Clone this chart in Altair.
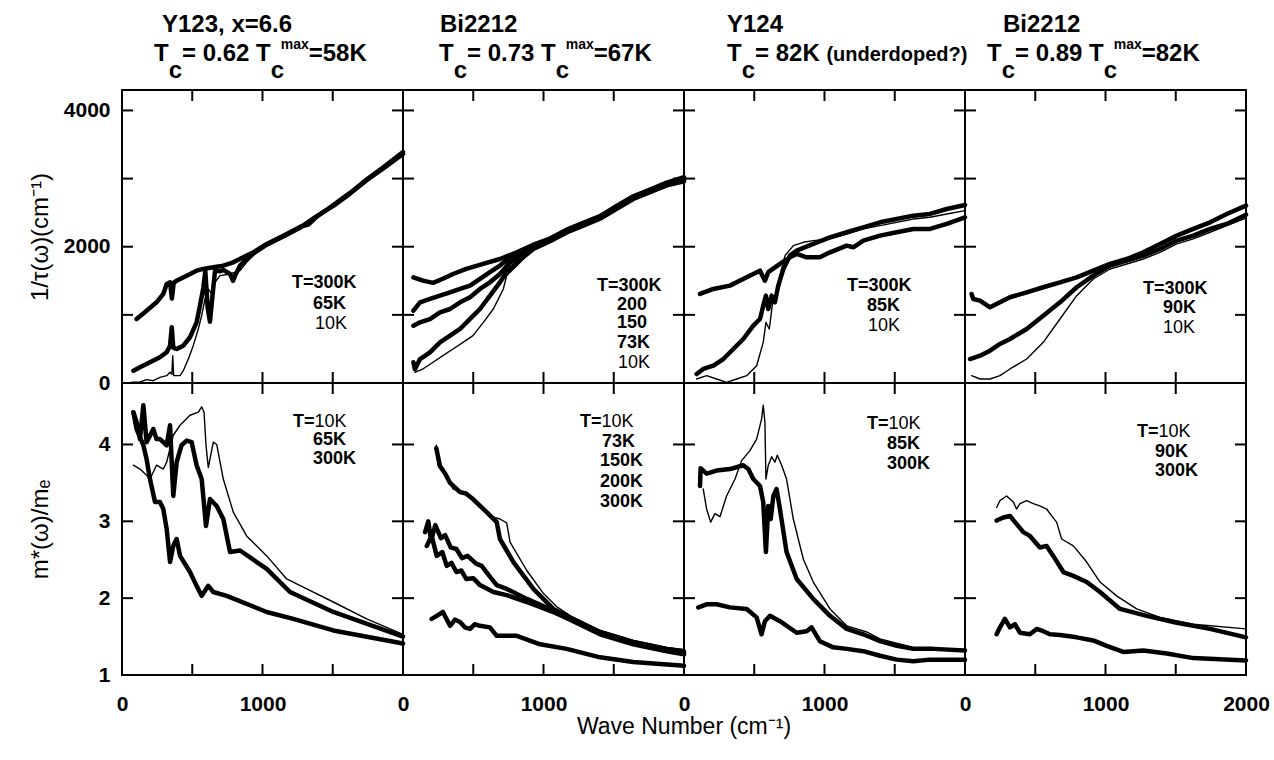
import altair as alt
import pandas as pd

FONT = "Liberation Sans"
PANEL_W, TOP_H, BOT_H = 281, 293, 292
X_DOMAIN = [0, 2000]
TOP_DOMAIN = [0, 4300]
BOT_DOMAIN = [1, 4.8]
THICK, THIN = 4.5, 1.4

# ---------------- curves: (wave number, value) ----------------
# Y123 x=6.6, 1/tau
P1_TOP_300K = [(104, 940), (175, 1061), (246, 1184), (294, 1307), (318, 1453), (342, 1478), (355, 1240),
               (368, 1470), (389, 1502), (460, 1575), (531, 1649), (579, 1674), (650, 1698), (721, 1722),
               (792, 1771), (863, 1845), (935, 1918), (1030, 2040), (1148, 2162), (1267, 2290), (1330, 2330),
               (1386, 2440), (1504, 2610), (1623, 2790), (1741, 2985), (1860, 3166), (2000, 3390)]
P1_TOP_65K = [(81, 181), (128, 230), (199, 304), (270, 377), (318, 451), (342, 548), (354, 818), (365, 520),
              (389, 499), (436, 548), (484, 671), (531, 891), (555, 1135), (579, 1400), (593, 1640), (610, 1100),
              (626, 900), (645, 1300), (662, 1649), (700, 1640), (721, 1660), (769, 1600), (790, 1500),
              (810, 1600), (840, 1722), (911, 1869), (1030, 2030), (1148, 2150), (1267, 2280), (1386, 2450),
              (1504, 2600), (1623, 2780), (1741, 2975), (1860, 3150), (2000, 3360)]
P1_TOP_10K = [(69, 10), (128, 15), (175, 49), (223, 34), (270, 83), (318, 108), (342, 157), (355, 130),
              (361, 401), (368, 108), (413, 108), (436, 181), (472, 352), (507, 548), (543, 793), (567, 988),
              (591, 1233), (614, 1380), (638, 1307), (662, 1478), (697, 1575), (769, 1600), (840, 1649),
              (887, 1771), (958, 1918), (1030, 2016), (1148, 2140), (1267, 2270), (1386, 2440), (1504, 2600),
              (1623, 2780), (1741, 2970), (1860, 3150), (2000, 3370)]
# Y123 x=6.6, m*/me
P1_BOT_10K = [(81, 3.73), (128, 3.68), (175, 3.60), (199, 3.55), (246, 3.73), (294, 3.68), (318, 3.77),
              (365, 4.12), (413, 4.25), (484, 4.38), (543, 4.42), (567, 4.49), (584, 4.42), (598, 3.99),
              (614, 3.70), (650, 4.03), (674, 4.00), (721, 3.55), (792, 3.12), (887, 2.81), (1030, 2.55),
              (1172, 2.25), (1315, 2.12), (1504, 1.95), (1741, 1.73), (2000, 1.53)]
P1_BOT_65K = [(81, 4.42), (104, 4.29), (128, 4.07), (152, 4.51), (175, 4.03), (223, 4.20), (246, 4.07),
              (270, 4.07), (318, 3.99), (342, 4.25), (365, 3.33), (389, 3.77), (424, 3.99), (460, 4.05),
              (496, 4.03), (531, 3.73), (567, 3.55), (598, 2.94), (626, 3.29), (674, 3.20), (721, 3.03),
              (769, 2.60), (840, 2.62), (1030, 2.38), (1196, 2.08), (1504, 1.82), (2000, 1.50)]
P1_BOT_300K = [(81, 4.42), (104, 4.20), (152, 3.99), (175, 3.81), (199, 3.55), (235, 3.25), (270, 3.25),
               (294, 3.16), (318, 2.90), (342, 2.47), (365, 2.68), (389, 2.77), (413, 2.55), (484, 2.34),
               (531, 2.16), (567, 2.03), (614, 2.16), (650, 2.08), (745, 2.03), (1030, 1.82), (1219, 1.73),
               (1504, 1.58), (2000, 1.41)]
# Bi2212 Tc=67K, 1/tau
P2_TOP_300K = [(74, 1550), (142, 1502), (214, 1470), (284, 1530), (356, 1600), (450, 1675), (570, 1747),
               (690, 1820), (810, 1918), (928, 2030), (1046, 2120), (1165, 2250), (1283, 2350), (1402, 2450),
               (1521, 2600), (1639, 2740), (1758, 2840), (1877, 2940), (2000, 3020)]
P2_TOP_200K = [(74, 1061), (121, 1184), (192, 1233), (263, 1282), (335, 1331), (406, 1380), (477, 1429),
               (548, 1528), (619, 1626), (690, 1724), (762, 1845), (833, 1918), (928, 2016), (1046, 2110),
               (1165, 2240), (1283, 2340), (1402, 2440), (1521, 2590), (1639, 2730), (1758, 2830), (1877, 2930),
               (2000, 3000)]
P2_TOP_150K = [(74, 841), (121, 890), (192, 939), (263, 1037), (335, 1086), (406, 1184), (477, 1258),
               (548, 1380), (619, 1478), (690, 1600), (762, 1771), (833, 1869), (928, 1992), (1046, 2095),
               (1165, 2225), (1283, 2325), (1402, 2425), (1521, 2570), (1639, 2710), (1758, 2810), (1877, 2910),
               (2000, 2980)]
P2_TOP_73K = [(74, 304), (85, 200), (121, 352), (192, 450), (263, 597), (335, 695), (406, 793), (477, 940),
              (548, 1086), (619, 1282), (690, 1478), (738, 1626), (810, 1771), (928, 1967), (1046, 2080),
              (1165, 2210), (1283, 2310), (1402, 2410), (1521, 2555), (1639, 2700), (1758, 2800), (1877, 2900),
              (2000, 2960)]
P2_TOP_10K = [(85, 157), (142, 206), (214, 304), (284, 401), (356, 499), (427, 597), (498, 695), (572, 890),
              (643, 1086), (714, 1380), (738, 1575), (810, 1722), (928, 1967), (1046, 2090), (1165, 2220),
              (1283, 2320), (1402, 2420), (1521, 2565), (1639, 2710), (1758, 2810), (1877, 2910), (2000, 2970)]
# Bi2212 Tc=67K, m*/me
P2_BOT_10K = [(237, 3.99), (249, 3.73), (284, 3.70), (356, 3.42), (450, 3.38), (520, 3.25), (614, 3.07),
              (690, 3.03), (738, 2.98), (762, 2.73), (881, 2.36), (1000, 2.06), (1093, 1.89), (1200, 1.76),
              (1402, 1.58), (1639, 1.45), (1877, 1.36), (2000, 1.33)]
P2_BOT_73K = [(237, 3.95), (263, 3.72), (300, 3.62), (335, 3.50), (370, 3.44), (406, 3.38), (450, 3.36),
              (498, 3.29), (595, 3.12), (667, 2.99), (690, 2.77), (786, 2.47), (928, 2.12), (1070, 1.86),
              (1200, 1.74), (1402, 1.56), (1639, 1.43), (1877, 1.34), (2000, 1.31)]
P2_BOT_150K = [(157, 2.86), (180, 3.00), (200, 2.75), (230, 2.95), (270, 2.78), (300, 2.82), (340, 2.66),
               (380, 2.64), (420, 2.52), (460, 2.55), (520, 2.45), (560, 2.42), (610, 2.30), (667, 2.17),
               (738, 2.12), (881, 1.99), (1093, 1.82), (1200, 1.73), (1402, 1.55), (1639, 1.42), (1877, 1.33),
               (2000, 1.29)]
P2_BOT_200K = [(169, 2.68), (204, 2.81), (240, 2.55), (280, 2.60), (311, 2.42), (345, 2.46), (380, 2.34),
               (415, 2.36), (450, 2.25), (500, 2.26), (548, 2.17), (643, 2.08), (738, 2.04), (881, 1.95),
               (1093, 1.80), (1200, 1.71), (1402, 1.53), (1639, 1.40), (1877, 1.31), (2000, 1.27)]
P2_BOT_300K = [(204, 1.73), (240, 1.77), (284, 1.82), (335, 1.64), (370, 1.72), (406, 1.69), (440, 1.62),
               (477, 1.60), (510, 1.66), (548, 1.64), (619, 1.62), (667, 1.51), (810, 1.51), (976, 1.40),
               (1165, 1.34), (1402, 1.23), (1639, 1.17), (2000, 1.12)]
# Y124, 1/tau
P3_TOP_300K = [(114, 1307), (209, 1380), (327, 1429), (446, 1551), (541, 1649), (576, 1502), (600, 1626),
               (683, 1747), (754, 1845), (802, 1894), (872, 1845), (967, 1845), (1039, 1918), (1158, 2016),
               (1205, 1992), (1276, 2090), (1395, 2163), (1514, 2212), (1632, 2261), (1751, 2261), (1870, 2334),
               (2000, 2432)]
P3_TOP_85K = [(90, 132), (137, 206), (209, 254), (280, 352), (351, 499), (422, 646), (493, 842), (541, 939),
              (564, 1135), (583, 1282), (600, 1086), (624, 1282), (647, 1184), (671, 1429), (707, 1673),
              (754, 1869), (802, 1943), (920, 2041), (1039, 2138), (1158, 2212), (1276, 2285), (1395, 2358),
              (1514, 2407), (1632, 2456), (1751, 2481), (1870, 2554), (2000, 2613)]
P3_TOP_10K = [(90, 59), (161, 108), (232, 59), (303, 10), (375, 59), (446, 108), (517, 254), (564, 597),
              (583, 890), (607, 793), (631, 1184), (659, 1282), (683, 1575), (719, 1869), (778, 2016),
              (849, 2065), (920, 2090), (1039, 2114), (1158, 2187), (1276, 2261), (1395, 2309), (1514, 2358),
              (1632, 2407), (1751, 2432), (1870, 2481), (2000, 2530)]
# Y124, m*/me
P3_BOT_85K = [(114, 3.46), (118, 3.69), (161, 3.62), (232, 3.66), (327, 3.68), (422, 3.73), (458, 3.68),
              (493, 3.55), (541, 3.46), (564, 3.25), (583, 2.60), (600, 3.20), (617, 3.03), (636, 3.33),
              (659, 3.42), (683, 3.16), (730, 2.60), (802, 2.25), (920, 1.99), (1039, 1.77), (1158, 1.60),
              (1276, 1.53), (1395, 1.44), (1514, 1.38), (1632, 1.34), (1775, 1.34), (2000, 1.32)]
P3_BOT_10K = [(137, 3.42), (161, 3.16), (190, 2.99), (220, 3.10), (256, 3.06), (303, 3.33), (363, 3.55),
              (410, 3.79), (469, 3.92), (517, 4.07), (552, 4.33), (564, 4.51), (576, 4.29), (583, 3.55),
              (600, 3.73), (624, 3.84), (647, 3.77), (664, 3.86), (695, 3.73), (730, 3.55), (778, 3.03),
              (849, 2.51), (920, 2.21), (1039, 1.86), (1158, 1.64), (1300, 1.56), (1395, 1.47), (1632, 1.36),
              (2000, 1.32)]
P3_BOT_300K = [(102, 1.88), (161, 1.92), (232, 1.92), (327, 1.88), (446, 1.86), (517, 1.75), (552, 1.53),
               (576, 1.70), (612, 1.77), (683, 1.70), (802, 1.55), (873, 1.57), (908, 1.62), (967, 1.44),
               (1062, 1.36), (1158, 1.34), (1276, 1.31), (1395, 1.25), (1514, 1.20), (1632, 1.18), (1751, 1.20),
               (2000, 1.20)]
# Bi2212 Tc=82K, 1/tau
P4_TOP_300K = [(47, 1307), (59, 1233), (107, 1209), (178, 1111), (249, 1184), (320, 1258), (439, 1331),
               (557, 1405), (676, 1478), (795, 1551), (913, 1649), (1032, 1747), (1151, 1820), (1269, 1918),
               (1388, 2041), (1507, 2163), (1625, 2261), (1744, 2358), (1863, 2481), (2000, 2603)]
P4_TOP_90K = [(36, 352), (107, 401), (178, 475), (249, 573), (320, 646), (439, 793), (557, 988), (676, 1184),
              (795, 1405), (913, 1575), (1032, 1722), (1151, 1796), (1269, 1869), (1388, 1967), (1507, 2090),
              (1625, 2163), (1744, 2261), (1863, 2334), (2000, 2470)]
P4_TOP_10K = [(47, 108), (107, 59), (178, 59), (249, 108), (320, 206), (439, 352), (557, 597), (676, 939),
              (795, 1282), (913, 1526), (1032, 1673), (1151, 1747), (1269, 1820), (1388, 1918), (1507, 2041),
              (1625, 2114), (1744, 2212), (1863, 2309), (2000, 2420)]
# Bi2212 Tc=82K, m*/me
P4_BOT_10K = [(225, 3.18), (249, 3.27), (296, 3.33), (344, 3.25), (367, 3.16), (391, 3.23), (439, 3.27),
              (486, 3.23), (533, 3.20), (581, 3.16), (617, 3.07), (652, 2.99), (688, 2.77), (771, 2.68),
              (866, 2.47), (961, 2.21), (1079, 2.03), (1222, 1.86), (1388, 1.75), (1625, 1.66), (2000, 1.60)]
P4_BOT_90K = [(225, 3.01), (273, 3.05), (320, 3.07), (356, 2.99), (415, 2.86), (462, 2.81), (533, 2.66),
              (581, 2.68), (628, 2.55), (700, 2.34), (771, 2.29), (866, 2.21), (961, 2.08), (1103, 1.86),
              (1293, 1.77), (1507, 1.68), (1744, 1.60), (2000, 1.49)]
P4_BOT_300K = [(225, 1.53), (249, 1.62), (284, 1.73), (320, 1.62), (356, 1.66), (391, 1.55), (462, 1.53),
               (510, 1.60), (557, 1.57), (604, 1.53), (676, 1.52), (795, 1.49), (913, 1.45), (1008, 1.38),
               (1127, 1.30), (1269, 1.32), (1436, 1.28), (1625, 1.22), (2000, 1.19)]

SERIES = {
    (0, 0): [("300K", P1_TOP_300K, THICK), ("65K", P1_TOP_65K, THICK), ("10K", P1_TOP_10K, THIN)],
    (1, 0): [("10K", P1_BOT_10K, THIN), ("65K", P1_BOT_65K, THICK), ("300K", P1_BOT_300K, THICK)],
    (0, 1): [("300K", P2_TOP_300K, THICK), ("200K", P2_TOP_200K, THICK), ("150K", P2_TOP_150K, THICK),
             ("73K", P2_TOP_73K, THICK), ("10K", P2_TOP_10K, THIN)],
    (1, 1): [("10K", P2_BOT_10K, THIN), ("73K", P2_BOT_73K, THICK), ("150K", P2_BOT_150K, THICK),
             ("200K", P2_BOT_200K, THICK), ("300K", P2_BOT_300K, THICK)],
    (0, 2): [("300K", P3_TOP_300K, THICK), ("85K", P3_TOP_85K, THICK), ("10K", P3_TOP_10K, THIN)],
    (1, 2): [("85K", P3_BOT_85K, THICK), ("10K", P3_BOT_10K, THIN), ("300K", P3_BOT_300K, THICK)],
    (0, 3): [("300K", P4_TOP_300K, THICK), ("90K", P4_TOP_90K, THICK), ("10K", P4_TOP_10K, THIN)],
    (1, 3): [("10K", P4_BOT_10K, THIN), ("90K", P4_BOT_90K, THICK), ("300K", P4_BOT_300K, THICK)],
}

# ---------------- in-panel temperature labels (text, x, y) ----------------
LEGEND_BOLD = {
    (0, 0): [("T=300K", 1210, 1468), ("65K", 1359, 1160)],
    (1, 0): [("T=", 1217, 4.29), ("65K", 1359, 4.06), ("300K", 1359, 3.81)],
    (0, 1): [("T=300K", 1381, 1424), ("200", 1523, 1145), ("150", 1523, 881), ("73K", 1523, 587)],
    (1, 1): [("T=", 1260, 4.29), ("73K", 1416, 4.03), ("150K", 1402, 3.79), ("200K", 1402, 3.51),
             ("300K", 1402, 3.25)],
    (0, 2): [("T=300K", 1160, 1424), ("85K", 1302, 1130)],
    (1, 2): [("T=", 1302, 4.27), ("85K", 1445, 4.01), ("300K", 1445, 3.75)],
    (0, 3): [("T=300K", 1267, 1380), ("90K", 1409, 1101)],
    (1, 3): [("T=", 1224, 4.16), ("90K", 1352, 3.90), ("300K", 1352, 3.66)],
}
LEGEND_NORMAL = {
    (0, 0): [("10K", 1374, 866)],
    (1, 0): [("10K", 1370, 4.29)],
    (0, 1): [("10K", 1530, 294)],
    (1, 1): [("10K", 1413, 4.29)],
    (0, 2): [("10K", 1310, 837)],
    (1, 2): [("10K", 1455, 4.27)],
    (0, 3): [("10K", 1409, 807)],
    (1, 3): [("10K", 1377, 4.16)],
}

# ---------------- column headings ----------------
HEAD_LINE1 = ["Y123, x=6.6", "Bi2212", "Y124", "Bi2212"]
HEAD_LINE2 = [
    [("M", "T"), ("C", "c"), ("M", "= 0.62 T"), ("CS", "c", "max"), ("M", "=58K")],
    [("M", "T"), ("C", "c"), ("M", "= 0.73 T"), ("CS", "c", "max"), ("M", "=67K")],
    [("M", "T"), ("C", "c"), ("M", "= 82K "), ("P", "(underdoped?)")],
    [("M", "T"), ("C", "c"), ("M", "= 0.89 T"), ("CS", "c", "max"), ("M", "=82K")],
]
HEAD_X1 = [40, 37, 43, 38]   # px from panel left
HEAD_X2 = [32, 36, 43, 22]

Y_TITLE_TOP = "1/τ(ω)(cm⁻¹)"
Y_TITLE_BOT = "m*(ω)/mₑ"
X_TITLE = "Wave Number (cm⁻¹)"

BOLD_W = {' ': 278, '(': 333, ')': 333, ',': 278, '.': 278, '=': 584, '?': 611, 'B': 722, 'K': 722,
          'T': 611, 'Y': 667, 'a': 556, 'c': 556, 'd': 611, 'e': 556, 'i': 278, 'm': 889, 'n': 611,
          'o': 611, 'p': 611, 'r': 389, 'u': 611, 'x': 556}


def tw(s, size):
    return sum(BOLD_W.get(ch, 556) for ch in s) * size / 1000.0


XPX = X_DOMAIN[1] / PANEL_W
TOPPX = TOP_DOMAIN[1] / TOP_H
BOTPX = (BOT_DOMAIN[1] - BOT_DOMAIN[0]) / BOT_H
MAIN, SUP, PAR = 24, 14, 20


def heading_rows(col):
    rows = []
    def add(text, xpx, above, size):
        rows.append({"x": xpx * XPX, "y": TOP_DOMAIN[1] + above * TOPPX, "t": text, "fs": size})
    add(HEAD_LINE1[col], HEAD_X1[col], 58, MAIN)
    cur = HEAD_X2[col]
    for piece in HEAD_LINE2[col]:
        kind = piece[0]
        if kind == "M":
            add(piece[1], cur, 29, MAIN)
            cur += tw(piece[1], MAIN)
        elif kind == "P":
            add(piece[1], cur, 29, PAR)
            cur += tw(piece[1], PAR)
        elif kind == "C":
            add(piece[1], cur, 12, MAIN)
            cur += tw(piece[1], MAIN)
        elif kind == "CS":
            add(piece[1], cur, 12, MAIN)
            add(piece[2], cur + 10, 41, SUP)
            cur += max(tw(piece[1], MAIN), 10 + tw(piece[2], SUP))
    return pd.DataFrame(rows)


def tick_rows(row):
    L = 11
    rows = []
    if row == 0:
        ys, dom, ypx = [1000, 2000, 3000, 4000], TOP_DOMAIN, TOPPX
    else:
        ys, dom, ypx = [2, 3, 4], BOT_DOMAIN, BOTPX
    for v in ys:
        rows.append({"x": 0, "x2": L * XPX, "y": v, "y2": v})
        rows.append({"x": X_DOMAIN[1] - L * XPX, "x2": X_DOMAIN[1], "y": v, "y2": v})
    for u in [500, 1000, 1500]:
        rows.append({"x": u, "x2": u, "y": dom[0], "y2": dom[0] + L * ypx})
        rows.append({"x": u, "x2": u, "y": dom[1] - L * ypx, "y2": dom[1]})
    return pd.DataFrame(rows)


def panel(row, col):
    top = row == 0
    ydom = TOP_DOMAIN if top else BOT_DOMAIN
    sx = alt.Scale(domain=X_DOMAIN, nice=False, zero=False)
    sy = alt.Scale(domain=ydom, nice=False, zero=False)

    if top:
        xaxis = None
    else:
        xaxis = alt.Axis(values=[0, 1000, 2000] if col == 3 else [0, 1000], format="d", title=None,
                         ticks=False, tickSize=0, domain=False, grid=False, labelFont=FONT,
                         labelFontSize=21, labelFontWeight="bold", labelColor="black", labelPadding=18,
                         labelFlush=False, labelOverlap=False)
    ytitle = (Y_TITLE_TOP if top else Y_TITLE_BOT) if col == 0 else None
    if col == 0:
        yaxis = alt.Axis(values=[0, 2000, 4000] if top else [1, 2, 3, 4], format="d",
                         title=ytitle, ticks=False, tickSize=0,
                         domain=False, grid=False, labelFont=FONT, labelFontSize=21,
                         labelFontWeight="bold", labelColor="black", labelPadding=12,
                         labelFlush=False, labelOverlap=False, titleFont=FONT, titleFontSize=24,
                         titleFontWeight="normal", titleColor="black", titleX=-70, titleAngle=270,
                         titleBaseline="bottom", titleAlign="center")
    else:
        yaxis = None

    def X():
        return alt.X("x:Q", scale=sx, axis=xaxis, title=None)

    def Y():
        return alt.Y("y:Q", scale=sy, axis=yaxis, title=ytitle)

    rows = []
    for name, pts, w in SERIES[(row, col)]:
        for i, (x, y) in enumerate(pts):
            rows.append({"s": name, "i": i, "x": x, "y": y, "w": w})
    curves = alt.Chart(pd.DataFrame(rows)).mark_line(color="black", strokeCap="round",
                                                      strokeJoin="round").encode(
        x=X(), y=Y(),
        detail="s:N",
        order=alt.Order("i:Q"),
        strokeWidth=alt.StrokeWidth("w:Q", scale=None, legend=None),
    )

    ticks = alt.Chart(tick_rows(row)).mark_rule(color="black", strokeWidth=2).encode(
        x=X(), x2="x2:Q", y=Y(), y2="y2:Q")

    def txt(data, weight, size):
        df = pd.DataFrame([{"t": t, "x": x, "y": y} for t, x, y in data])
        return alt.Chart(df).mark_text(align="left", baseline="middle", font=FONT, fontSize=size,
                                       fontWeight=weight, color="black").encode(
            x=X(), y=Y(), text="t:N")

    layers = [curves, ticks, txt(LEGEND_BOLD[(row, col)], "bold", 18),
              txt(LEGEND_NORMAL[(row, col)], "normal", 18)]

    if top:
        head = alt.Chart(heading_rows(col)).mark_text(align="left", baseline="alphabetic", font=FONT,
                                                      fontWeight="bold", color="black").encode(
            x=X(), y=Y(), text="t:N",
            size=alt.Size("fs:Q", scale=None, legend=None))
        layers.append(head)
    if (not top) and col == 1:
        xt = alt.Chart(pd.DataFrame([{"t": X_TITLE, "x": X_DOMAIN[1], "y": BOT_DOMAIN[0]}])).mark_text(
            align="center", baseline="alphabetic", font=FONT, fontSize=23, fontWeight="normal",
            color="black", dy=59).encode(x=X(), y=Y(), text="t:N")
        layers.append(xt)

    return alt.layer(*layers).properties(width=PANEL_W, height=TOP_H if top else BOT_H)


panels = [panel(r, c) for r in range(2) for c in range(4)]
chart = alt.concat(*panels, columns=4, spacing=0, bounds="flush").properties(
    padding={"left": 27, "top": 11, "right": 0, "bottom": 0},
    background="white",
).configure_view(stroke="black", strokeWidth=2).configure_text(font=FONT)

chart.save("out.html", embed_options={"renderer": "svg", "actions": False})
